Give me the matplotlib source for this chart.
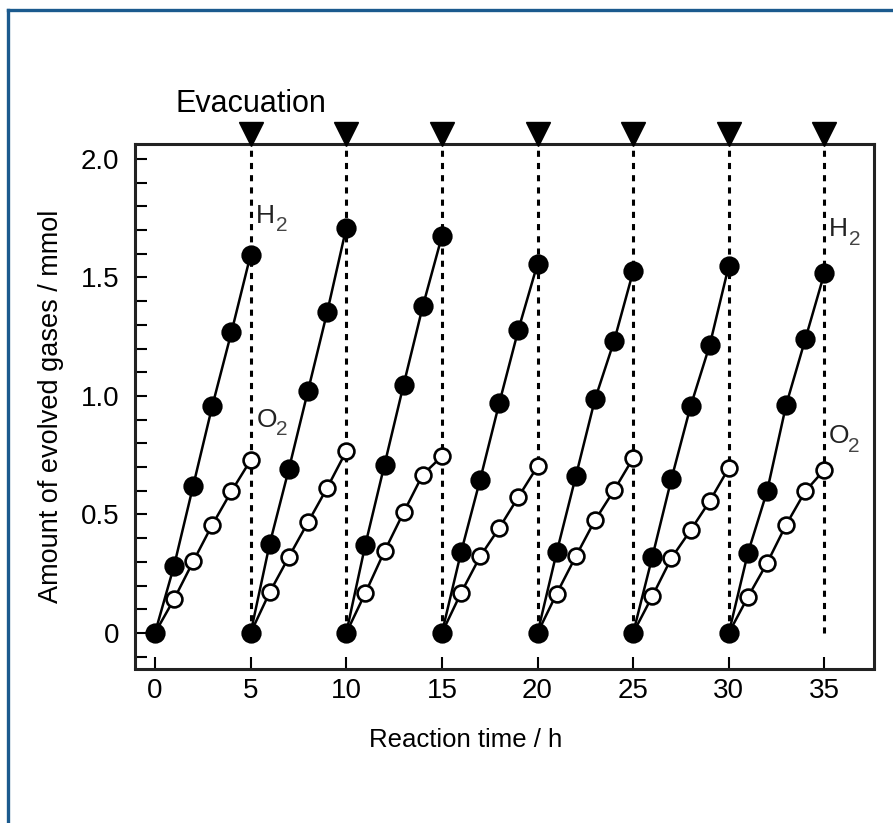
import numpy as np
import matplotlib

matplotlib.use("Agg")
import matplotlib.pyplot as plt
from matplotlib.lines import Line2D
from matplotlib.ticker import MultipleLocator, FixedLocator
import matplotlib.transforms as mtransforms

plt.rcParams["font.family"] = ["Liberation Sans", "DejaVu Sans"]

# start of each run (h) and hours within a run
CYCLE_START = [0, 5, 10, 15, 20, 25, 30]
HOURS = [0, 1, 2, 3, 4, 5]

# evolved H2 per run (mmol)
H2 = [
    [0, 0.284, 0.622, 0.959, 1.27, 1.596],
    [0, 0.377, 0.692, 1.022, 1.353, 1.709],
    [0, 0.373, 0.710, 1.048, 1.378, 1.674],
    [0, 0.340, 0.647, 0.970, 1.280, 1.558],
    [0, 0.340, 0.661, 0.985, 1.231, 1.526],
    [0, 0.321, 0.650, 0.956, 1.214, 1.550],
    [0, 0.338, 0.598, 0.963, 1.240, 1.519],
]

# evolved O2 per run (mmol)
O2 = [
    [0, 0.143, 0.302, 0.457, 0.598, 0.729],
    [0, 0.172, 0.321, 0.467, 0.612, 0.767],
    [0, 0.169, 0.345, 0.509, 0.668, 0.745],
    [0, 0.169, 0.323, 0.443, 0.574, 0.703],
    [0, 0.166, 0.323, 0.475, 0.602, 0.738],
    [0, 0.155, 0.316, 0.433, 0.556, 0.696],
    [0, 0.152, 0.295, 0.457, 0.598, 0.689],
]

EVACUATION = [5, 10, 15, 20, 25, 30, 35]

# gas labels: (element, x, baseline y)
GAS_LABELS = [("H", 5.3, 1.731), ("O", 5.3, 0.87),
              ("H", 35.25, 1.674), ("O", 35.2, 0.80)]

W, H = 893, 823
fig = plt.figure(figsize=(W / 100, H / 100), dpi=100)
ax = fig.add_axes([135 / W, 1 - 668.5 / H, (874 - 135) / W, (668.5 - 144) / H])

ax.vlines(EVACUATION, 0, 2.063, colors="black", linestyles=(0, (2, 2)),
          linewidth=2.2, zorder=1)

for start, h2, o2 in zip(CYCLE_START, H2, O2):
    t = np.array(HOURS) + start
    ax.plot(t, o2, "-o", color="black", lw=1.8, ms=11.4, mfc="white",
            mec="black", mew=1.9, zorder=3)
    ax.plot(t, h2, "-o", color="black", lw=1.8, ms=13.2, mfc="black",
            mec="black", mew=1.4, zorder=4)

# evacuation markers above the frame
trans = mtransforms.blended_transform_factory(ax.transData, ax.transAxes)
ax.plot(EVACUATION, [1.019] * len(EVACUATION), "v", color="black", ms=17,
        transform=trans, clip_on=False, zorder=5)
ax.text(5.04, 1.0616, "Evacuation", transform=trans, ha="center",
        va="baseline", fontsize=22)

for elem, x, y in GAS_LABELS:
    ax.text(x, y, elem, fontsize=19, va="baseline", ha="left", color="#222222")
    sub = mtransforms.offset_copy(ax.transData, fig=fig, x=14, y=-6, units="points")
    ax.text(x, y, "2", fontsize=15, va="baseline", ha="left",
            color="#444444", transform=sub)

ax.set_xlim(-1.045, 37.59)
ax.set_ylim(-0.15, 2.063)
ax.xaxis.set_major_locator(FixedLocator([0, 5, 10, 15, 20, 25, 30, 35]))
ax.yaxis.set_major_locator(FixedLocator([0, 0.5, 1.0, 1.5, 2.0]))
ax.yaxis.set_minor_locator(MultipleLocator(0.1))
ax.set_yticklabels(["0", "0.5", "1.0", "1.5", "2.0"])

ax.tick_params(axis="both", which="both", direction="in", length=8.6,
               width=1.5, labelsize=20, top=False, right=False)
ax.tick_params(axis="x", pad=7)
ax.tick_params(axis="y", pad=11.5)
for sp in ax.spines.values():
    sp.set_linewidth(2.2)
    sp.set_color("#222222")

ax.set_xlabel("Reaction time / h", fontsize=18.5)
ax.xaxis.set_label_coords((466 - 135) / 739, (668.5 - 747) / 524.5)
ax.xaxis.label.set_va("baseline")
ax.set_ylabel("Amount of evolved gases / mmol", fontsize=19.5)
ax.yaxis.set_label_coords((58 - 135) / 739, 0.5)
ax.yaxis.label.set_va("baseline")

# blue frame around the figure panel
fig.add_artist(Line2D([8 / W, 1.0], [1 - 9.5 / H, 1 - 9.5 / H],
                      transform=fig.transFigure, color="#1b5a8e", lw=2.4))
fig.add_artist(Line2D([8 / W, 8 / W], [1 - 9.5 / H, 0.0],
                      transform=fig.transFigure, color="#1b5a8e", lw=2.4))

fig.savefig("out.png", dpi=100)
